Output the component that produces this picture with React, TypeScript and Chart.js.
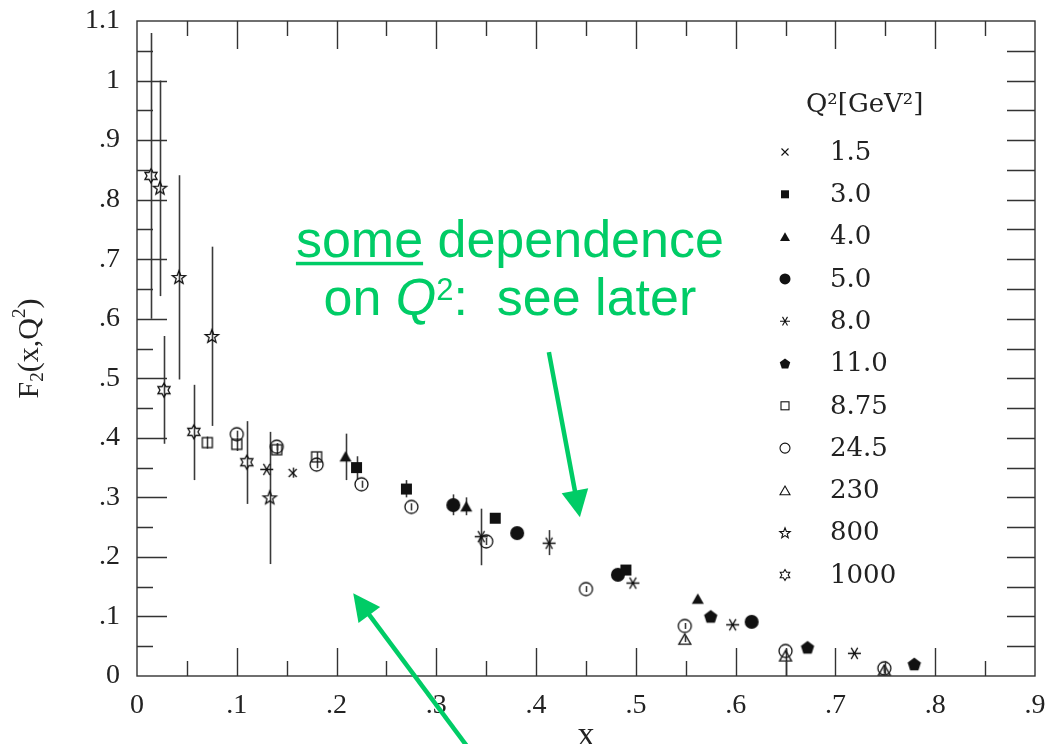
import React, { useEffect, useRef } from 'react';
import { Chart, registerables } from 'chart.js';

Chart.register(...registerables);

// ---- F2(x, Q^2) measurements, one group per Q^2 value [GeV^2] ----
const q2Labels = ['1.5', '3.0', '4.0', '5.0', '8.0', '11.0', '8.75', '24.5', '230', '800', '1000'];

const x1p5 = [0.156];
const f1p5 = [0.341];
const lo1p5 = [0.333];
const hi1p5 = [0.35];

const x3 = [0.22, 0.27, 0.359, 0.49];
const f3 = [0.35, 0.314, 0.265, 0.178];
const lo3 = [0.33, 0.3, null, null];
const hi3 = [0.369, 0.329, null, null];

const x4 = [0.209, 0.33, 0.562];
const f4 = [0.369, 0.285, 0.13];
const lo4 = [0.329, 0.27, null];
const hi4 = [0.407, 0.3, null];

const x5 = [0.317, 0.381, 0.482, 0.616];
const f5 = [0.287, 0.24, 0.17, 0.091];
const lo5 = [0.27, null, null, null];
const hi5 = [0.305, null, null, null];

const x8 = [0.13, 0.345, 0.413, 0.497, 0.597, 0.719];
const f8 = [0.347, 0.234, 0.223, 0.156, 0.086, 0.038];
const lo8 = [null, 0.186, 0.203, null, null, null];
const hi8 = [null, 0.281, 0.245, null, null, null];

const x11 = [0.575, 0.672, 0.779];
const f11 = [0.1, 0.048, 0.02];

const x875 = [0.0705, 0.1, 0.14, 0.18];
const f875 = [0.392, 0.389, 0.38, 0.368];
const lo875 = [0.382, 0.378, 0.372, 0.36];
const hi875 = [0.402, 0.4, 0.39, 0.376];

const x245 = [0.1, 0.14, 0.18, 0.225, 0.275, 0.35, 0.45, 0.549, 0.65, 0.749];
const f245 = [0.406, 0.385, 0.355, 0.322, 0.284, 0.226, 0.146, 0.084, 0.042, 0.013];
const lo245 = [0.4, 0.379, 0.349, 0.316, 0.278, 0.22, 0.141, 0.079, 0.037, 0.008];
const hi245 = [0.412, 0.391, 0.361, 0.328, 0.29, 0.232, 0.151, 0.089, 0.047, 0.018];

const x230 = [0.549, 0.65, 0.749];
const f230 = [0.062, 0.034, 0.01];
const lo230 = [0.057, 0.0, 0.004];
const hi230 = [0.067, 0.045, 0.016];

const x800 = [0.023, 0.042, 0.075, 0.133];
const f800 = [0.82, 0.67, 0.571, 0.3];
const lo800 = [0.638, 0.498, 0.42, 0.188];
const hi800 = [1.0, 0.841, 0.721, 0.41];

const x1000 = [0.014, 0.027, 0.057, 0.11];
const f1000 = [0.84, 0.48, 0.41, 0.359];
const lo1000 = [0.6, 0.39, 0.329, 0.289];
const hi1000 = [1.08, 0.571, 0.489, 0.428];

// marker shape for each Q^2 group, in legend order
const markerKinds = [
  'cross', 'square', 'triangle', 'circle', 'asterisk', 'pentagon',
  'openSquare', 'openCircle', 'openTriangle', 'star5', 'hexagram',
];
const markerSizes = [8, 11, 12, 14, 13, 14, 10, 13, 12, 14, 14];
const legendSizes = [7, 8, 10, 11, 10, 11, 8, 10, 10, 11, 11];

// axis settings
const xMin = 0;
const xMax = 0.9;
const yMin = 0;
const yMax = 1.1;
const tickStep = 0.1;

// green note anchors, in data units
const noteX = 0.3737;
const noteLine1Y = 0.704;
const noteLine2Y = 0.606;
const arrowUpper = [0.4128, 0.544, 0.4439, 0.2665];
const arrowLower = [0.3357, -0.129, 0.2167, 0.1389];

const INK = '#111';
const FRAME = '#333';
const GREEN = '#00cc66';
const SERIF = '"Liberation Serif", serif';
const LEGEND_SERIF = '"DejaVu Serif", serif';
const SANS = '"Liberation Sans", Arial, sans-serif';

function polyPoints(cx: number, cy: number, radii: number[], n: number, startDeg: number) {
  const pts: [number, number][] = [];
  for (let i = 0; i < n; i++) {
    const a = ((startDeg + (360 / n) * i) * Math.PI) / 180;
    const r = radii[i % radii.length];
    pts.push([cx + r * Math.cos(a), cy + r * Math.sin(a)]);
  }
  return pts;
}

function tracePoly(ctx: CanvasRenderingContext2D, pts: [number, number][]) {
  ctx.beginPath();
  pts.forEach(([x, y], i) => (i === 0 ? ctx.moveTo(x, y) : ctx.lineTo(x, y)));
  ctx.closePath();
}

function drawMarker(ctx: CanvasRenderingContext2D, kind: string, cx: number, cy: number, s: number, lw: number) {
  ctx.save();
  ctx.fillStyle = INK;
  ctx.strokeStyle = INK;
  ctx.lineWidth = lw;
  ctx.lineJoin = 'miter';
  const r = s / 2;
  switch (kind) {
    case 'cross':
      ctx.beginPath();
      ctx.moveTo(cx - r, cy - r);
      ctx.lineTo(cx + r, cy + r);
      ctx.moveTo(cx + r, cy - r);
      ctx.lineTo(cx - r, cy + r);
      ctx.stroke();
      break;
    case 'square':
      ctx.fillRect(cx - r, cy - r, s, s);
      break;
    case 'openSquare':
      ctx.strokeRect(cx - r, cy - r, s, s);
      break;
    case 'triangle':
    case 'openTriangle': {
      const R = s / Math.sqrt(3);
      tracePoly(ctx, polyPoints(cx, cy + R / 4, [R], 3, -90));
      if (kind === 'triangle') ctx.fill();
      else ctx.stroke();
      break;
    }
    case 'circle':
      ctx.beginPath();
      ctx.arc(cx, cy, r, 0, Math.PI * 2);
      ctx.fill();
      break;
    case 'openCircle':
      ctx.beginPath();
      ctx.arc(cx, cy, r, 0, Math.PI * 2);
      ctx.stroke();
      break;
    case 'pentagon':
      tracePoly(ctx, polyPoints(cx, cy + r * 0.08, [r], 5, -90));
      ctx.fill();
      break;
    case 'asterisk':
      ctx.beginPath();
      for (const deg of [0, 60, 120]) {
        const a = (deg * Math.PI) / 180;
        ctx.moveTo(cx - r * Math.cos(a), cy - r * Math.sin(a));
        ctx.lineTo(cx + r * Math.cos(a), cy + r * Math.sin(a));
      }
      ctx.stroke();
      break;
    case 'star5':
      tracePoly(ctx, polyPoints(cx, cy + r * 0.1, [r, r * 0.42], 10, -90));
      ctx.stroke();
      break;
    case 'hexagram':
      tracePoly(ctx, polyPoints(cx, cy, [r, r / Math.sqrt(3)], 12, -90));
      ctx.stroke();
      break;
  }
  ctx.restore();
}

function markerImage(kind: string, s: number) {
  const c = document.createElement('canvas');
  const dim = Math.ceil(s + 4);
  c.width = dim;
  c.height = dim;
  const ctx = c.getContext('2d')!;
  drawMarker(ctx, kind, dim / 2, dim / 2, s, 1.3);
  return c;
}

function fmtTick(v: number) {
  const r = Math.round(v * 100) / 100;
  if (r === 0) return '0';
  const s = String(r);
  return s.startsWith('0.') ? s.slice(1) : s;
}

function drawArrow(ctx: CanvasRenderingContext2D, x0: number, y0: number, x1: number, y1: number) {
  const headLen = 27;
  const headHalf = 13.5;
  const dx = x1 - x0;
  const dy = y1 - y0;
  const len = Math.hypot(dx, dy);
  const ux = dx / len;
  const uy = dy / len;
  const bx = x1 - ux * headLen;
  const by = y1 - uy * headLen;
  ctx.beginPath();
  ctx.moveTo(x0, y0);
  ctx.lineTo(bx + ux * 2, by + uy * 2);
  ctx.stroke();
  ctx.beginPath();
  ctx.moveTo(x1, y1);
  ctx.lineTo(bx - uy * headHalf, by + ux * headHalf);
  ctx.lineTo(bx + uy * headHalf, by - ux * headHalf);
  ctx.closePath();
  ctx.fill();
}

// keep the plot box exactly where the layout padding puts it
function pinScale(s: any, key: 'width' | 'height', size: number) {
  s[key] = size;
  s.paddingTop = 0;
  s.paddingBottom = 0;
  s.paddingLeft = 0;
  s.paddingRight = 0;
}

const overlayPlugin = {
  id: 'f2Overlay',
  beforeDatasetsDraw(chart: any) {
    const { ctx } = chart;
    const xs = chart.scales.x;
    const ys = chart.scales.y;
    ctx.save();
    ctx.strokeStyle = '#3a3a3a';
    ctx.lineWidth = 1.6;
    chart.data.datasets.forEach((ds: any) => {
      ds.data.forEach((p: any, i: number) => {
        const lo = ds.errLo ? ds.errLo[i] : null;
        const hi = ds.errHi ? ds.errHi[i] : null;
        if (lo == null || hi == null) return;
        const px = Math.round(xs.getPixelForValue(p.x)) + 0.5;
        ctx.beginPath();
        ctx.moveTo(px, ys.getPixelForValue(lo));
        ctx.lineTo(px, ys.getPixelForValue(hi));
        ctx.stroke();
      });
    });
    ctx.restore();
  },
  afterDraw(chart: any) {
    const { ctx, chartArea } = chart;
    const { left, right, top, bottom } = chartArea;
    const xs = chart.scales.x;
    const ys = chart.scales.y;
    ctx.save();

    // frame and inward ticks
    ctx.strokeStyle = FRAME;
    ctx.lineWidth = 1.4;
    ctx.strokeRect(left, top, right - left, bottom - top);
    ctx.beginPath();
    const nx = Math.round((xMax - xMin) / (tickStep / 2));
    for (let i = 1; i < nx; i++) {
      const px = Math.round(xs.getPixelForValue(xMin + (i * tickStep) / 2)) + 0.5;
      const len = i % 2 === 0 ? 28 : 15;
      ctx.moveTo(px, bottom);
      ctx.lineTo(px, bottom - len);
      ctx.moveTo(px, top);
      ctx.lineTo(px, top + len);
    }
    const ny = Math.round((yMax - yMin) / (tickStep / 2));
    for (let i = 1; i < ny; i++) {
      const py = Math.round(ys.getPixelForValue(yMin + (i * tickStep) / 2)) + 0.5;
      const len = i % 2 === 0 ? 30 : 16;
      ctx.moveTo(left, py);
      ctx.lineTo(left + len, py);
      ctx.moveTo(right, py);
      ctx.lineTo(right - 28, py);
    }
    ctx.stroke();

    // axis titles
    ctx.fillStyle = '#222';
    ctx.textBaseline = 'alphabetic';
    ctx.save();
    ctx.translate(38, (top + bottom) / 2);
    ctx.rotate(-Math.PI / 2);
    const bigF = `30px ${SERIF}`;
    const smallF = `19px ${SERIF}`;
    const pieces: [string, string, number][] = [
      ['F', bigF, 0],
      ['2', smallF, 5],
      ['(x,Q', bigF, 0],
      ['2', smallF, -13],
      [')', bigF, 0],
    ];
    let total = 0;
    pieces.forEach(([t, f]) => {
      ctx.font = f;
      total += ctx.measureText(t).width;
    });
    let cx = -total / 2;
    ctx.textAlign = 'left';
    pieces.forEach(([t, f, dy]) => {
      ctx.font = f;
      ctx.fillText(t, cx, dy);
      cx += ctx.measureText(t).width;
    });
    ctx.restore();

    ctx.font = `34px ${SERIF}`;
    ctx.textAlign = 'center';
    ctx.fillText('x', (left + right) / 2, 745);

    // Q^2 legend
    const legMarkX = right - 250;
    const legTextX = right - 205;
    const legRow0 = top + 131;
    const legStep = 42.3;
    ctx.font = `26px ${LEGEND_SERIF}`;
    ctx.textAlign = 'left';
    ctx.textBaseline = 'middle';
    ctx.fillText('Q\u00b2[GeV\u00b2]', right - 229, top + 84);
    q2Labels.forEach((lab, i) => {
      const yy = legRow0 + i * legStep;
      drawMarker(ctx, markerKinds[i], legMarkX, yy, legendSizes[i], 1.1);
      ctx.fillStyle = '#222';
      ctx.fillText(lab, legTextX, yy + 1);
    });

    // green note with arrows
    ctx.fillStyle = GREEN;
    ctx.strokeStyle = GREEN;
    ctx.textBaseline = 'alphabetic';
    ctx.textAlign = 'left';
    const ncx = xs.getPixelForValue(noteX);
    const l1 = ys.getPixelForValue(noteLine1Y);
    const l2 = ys.getPixelForValue(noteLine2Y);
    const normal = `52px ${SANS}`;
    ctx.font = normal;
    const line1 = 'some dependence';
    const w1 = ctx.measureText(line1).width;
    const x1 = ncx - w1 / 2;
    ctx.fillText(line1, x1, l1);
    ctx.fillRect(x1, l1 + 5, ctx.measureText('some').width, 3.5);

    const parts: [string, string, number][] = [
      ['on ', normal, 0],
      ['Q', `italic 52px ${SANS}`, 0],
      ['2', `31px ${SANS}`, -15],
      [':  see later', normal, 0],
    ];
    let w2 = 0;
    parts.forEach(([t, f]) => {
      ctx.font = f;
      w2 += ctx.measureText(t).width;
    });
    let px2 = ncx - w2 / 2;
    parts.forEach(([t, f, dy]) => {
      ctx.font = f;
      ctx.fillText(t, px2, l2 + dy);
      px2 += ctx.measureText(t).width;
    });

    ctx.lineWidth = 4.5;
    ctx.lineCap = 'butt';
    drawArrow(
      ctx,
      xs.getPixelForValue(arrowUpper[0]), ys.getPixelForValue(arrowUpper[1]),
      xs.getPixelForValue(arrowUpper[2]), ys.getPixelForValue(arrowUpper[3]),
    );
    drawArrow(
      ctx,
      xs.getPixelForValue(arrowLower[0]), ys.getPixelForValue(arrowLower[1]),
      xs.getPixelForValue(arrowLower[2]), ys.getPixelForValue(arrowLower[3]),
    );
    ctx.restore();
  },
};

function series(xv: number[], yv: number[], lo: (number | null)[] | null, hi: (number | null)[] | null, idx: number) {
  return {
    label: q2Labels[idx],
    data: xv.map((x, i) => ({ x, y: yv[i] })),
    pointStyle: markerImage(markerKinds[idx], markerSizes[idx]),
    showLine: false,
    errLo: lo,
    errHi: hi,
  } as any;
}

export default function App() {
  const ref = useRef<HTMLCanvasElement>(null);

  useEffect(() => {
    const canvas = ref.current;
    if (!canvas) return;
    const tickFont = { family: SERIF, size: 28 };
    const chart = new Chart(canvas, {
      type: 'scatter',
      data: {
        datasets: [
          series(x1p5, f1p5, lo1p5, hi1p5, 0),
          series(x3, f3, lo3, hi3, 1),
          series(x4, f4, lo4, hi4, 2),
          series(x5, f5, lo5, hi5, 3),
          series(x8, f8, lo8, hi8, 4),
          series(x11, f11, null, null, 5),
          series(x875, f875, lo875, hi875, 6),
          series(x245, f245, lo245, hi245, 7),
          series(x230, f230, lo230, hi230, 8),
          series(x800, f800, lo800, hi800, 9),
          series(x1000, f1000, lo1000, hi1000, 10),
        ],
      },
      options: {
        animation: false,
        responsive: false,
        events: [],
        layout: { padding: { top: 21, right: 13, left: 0, bottom: 0 } },
        plugins: {
          legend: { display: false },
          tooltip: { enabled: false },
        },
        scales: {
          x: {
            type: 'linear',
            min: xMin,
            max: xMax,
            grid: { display: false },
            border: { display: false },
            ticks: {
              stepSize: tickStep,
              font: tickFont,
              color: '#222',
              padding: 5,
              maxRotation: 0,
              autoSkip: false,
              callback: (v: any) => fmtTick(Number(v)),
            },
            afterFit: (s: any) => pinScale(s, 'height', 68),
          },
          y: {
            type: 'linear',
            min: yMin,
            max: yMax,
            grid: { display: false },
            border: { display: false },
            ticks: {
              stepSize: tickStep,
              font: tickFont,
              color: '#222',
              padding: 9,
              autoSkip: false,
              callback: (v: any) => fmtTick(Number(v)),
            },
            afterFit: (s: any) => pinScale(s, 'width', 137),
          },
        },
      } as any,
      plugins: [overlayPlugin],
    });
    return () => chart.destroy();
  }, []);

  return (
    <div style={{ position: 'fixed', left: 0, top: 0, width: 1048, height: 744, background: '#fff', overflow: 'hidden' }}>
      <canvas ref={ref} width={1048} height={744} style={{ display: 'block' }} />
    </div>
  );
}
